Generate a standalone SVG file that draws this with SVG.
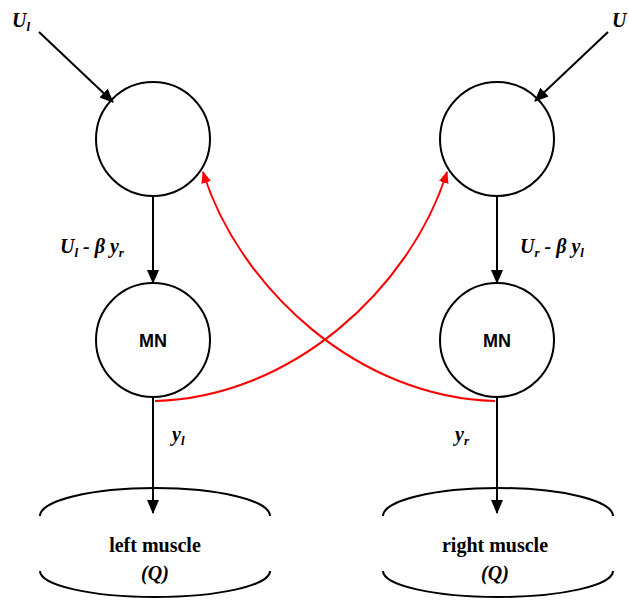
<svg xmlns="http://www.w3.org/2000/svg" width="629" height="601" viewBox="0 0 629 601">
<style>
.n{fill:none;stroke:#000;stroke-width:2}
.k{fill:none;stroke:#000;stroke-width:2}
.r{fill:none;stroke:#f00;stroke-width:2}
.mn{font-family:"Liberation Sans",Arial,sans-serif;font-weight:bold;font-size:18px;text-anchor:middle}
.lb{font-family:"Liberation Serif","Times New Roman",serif;font-weight:bold;font-style:italic;font-size:20px}
.mt{font-family:"Liberation Serif","Times New Roman",serif;font-weight:bold;font-size:20px;text-anchor:middle}
</style>
<defs>
<marker id="ab" markerWidth="14" markerHeight="12" refX="13" refY="6" orient="auto" markerUnits="userSpaceOnUse"><path d="M0,0 L14,6 L0,12 Z" fill="#000"/></marker>
<marker id="ar" markerWidth="12" markerHeight="10" refX="11" refY="5" orient="auto" markerUnits="userSpaceOnUse"><path d="M0,0 L12,5 L0,10 Z" fill="#f00"/></marker>
</defs>
<rect width="629" height="601" fill="#fff"/>
<g id="input-left"><text class="lb" x="12" y="27">U<tspan font-size="13" dy="4">l</tspan></text></g>
<g id="input-right"><text class="lb" x="612" y="27">U</text></g>
<g id="sum-left"><circle class="n" cx="153" cy="139" r="57"/></g>
<g id="sum-right"><circle class="n" cx="497" cy="139" r="57"/></g>
<g id="mn-left"><circle class="n" cx="153" cy="340" r="57"/><text class="mn" x="153" y="347">MN</text></g>
<g id="mn-right"><circle class="n" cx="497" cy="340" r="57"/><text class="mn" x="497" y="347">MN</text></g>
<g id="muscle-left">
<path class="n" d="M40,516 A115,28 0 0 1 270,516"/>
<path class="n" d="M40,571 A115,26 0 0 0 270,571"/>
<text class="mt" x="155" y="552">left muscle</text>
<text class="mt" x="155" y="580" font-style="italic">(Q)</text>
</g>
<g id="muscle-right">
<path class="n" d="M383,516 A115,28 0 0 1 613,516"/>
<path class="n" d="M383,571 A115,26 0 0 0 613,571"/>
<text class="mt" x="495" y="552">right muscle</text>
<text class="mt" x="495" y="580" font-style="italic">(Q)</text>
</g>
<g id="connectors">
<line class="k" x1="39" y1="32" x2="113" y2="102" marker-end="url(#ab)"/>
<line class="k" x1="608" y1="32" x2="535" y2="101" marker-end="url(#ab)"/>
<line class="k" x1="153" y1="196" x2="153" y2="283" marker-end="url(#ab)"/>
<line class="k" x1="497" y1="196" x2="497" y2="283" marker-end="url(#ab)"/>
<line class="k" x1="153" y1="397" x2="153" y2="513" marker-end="url(#ab)"/>
<line class="k" x1="497" y1="397" x2="497" y2="513" marker-end="url(#ab)"/>
<path class="r" d="M155,401 C290,398 410,290 447,172" marker-end="url(#ar)"/>
<path class="r" d="M495,401 C360,398 240,290 203,172" marker-end="url(#ar)"/>
<text class="lb" x="60" y="253">U<tspan font-size="13" dy="4">l</tspan><tspan dy="-4"> - β y</tspan><tspan font-size="13" dy="4">r</tspan></text>
<text class="lb" x="520" y="253">U<tspan font-size="13" dy="4">r</tspan><tspan dy="-4"> - β y</tspan><tspan font-size="13" dy="4">l</tspan></text>
<text class="lb" x="172" y="441">y<tspan font-size="13" dy="4">l</tspan></text>
<text class="lb" x="455" y="441">y<tspan font-size="13" dy="4">r</tspan></text>
</g>
</svg>
